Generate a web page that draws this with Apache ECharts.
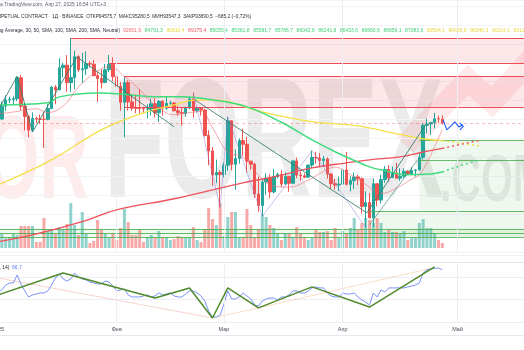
<!DOCTYPE html>
<html>
<head>
<meta charset="utf-8">
<script src="https://cdn.jsdelivr.net/npm/echarts@6/dist/echarts.min.js"></script>
<style>
  html, body { margin: 0; padding: 0; background: #ffffff; }
  #chart { width: 524px; height: 350px; }
</style>
</head>
<body>
<div id="chart"></div>
<script>
// Daily calendar: 1 Jan 2025 .. 20 May 2025 (the right part is left empty for projections)
const dates = [];
for (let i = 0; i < 140; i++) {
  dates.push(new Date(Date.UTC(2025, 0, 1 + i)).toISOString().slice(0, 10));
}
const monthNames = ['2025', 'Фев', 'Мар', 'Апр', 'Май', 'Июн'];
const monthStarts = [31, 59, 90, 120];

// BTCUSDT perpetual, daily candles, 1 Jan .. 27 Apr 2025
const open = [93576,94592,96985,98143,98227,98364,102236,96955,95061,92552,
  94726,94600,94545,94536,96561,100497,99987,104077,104556,101332,
  102260,106144,103707,103910,104871,104747,102620,102083,101336,103733,
  104723,102430,100636,97701,101329,97763,96612,96554,96507,96445,
  96463,97431,95778,97870,96608,97500,97570,96118,95780,95672,
  96644,98305,96182,96551,96258,91553,88680,84250,84709,84350,
  86065,94270,86221,87282,90606,89932,86802,86222,80734,78596,
  82933,83680,81116,83983,84338,82575,84010,82715,86846,84223,
  84089,83841,86083,87498,87393,86909,87232,84424,82649,82390,
  82550,85158,82516,83213,83890,83538,78430,79163,76322,82615,
  79607,83424,85277,83760,84592,83644,84030,84948,84475,85077,
  85179,87516,93443,93691,93980,94639,94575.7];
const high = [95151,97840,98977,98734,98813,102480,102724,97269,95382,95836,
  95051,95450,95940,97371,100682,100867,105865,104989,106422,109588,
  107241,106394,106850,107120,105287,105500,103260,103800,104783,106457,
  106012,102784,101457,102500,101746,99149,99120,100138,96880,97323,
  98345,98478,98120,98084,98826,97972,97725,97047,96754,96900,
  98711,99475,96980,96650,96500,92541,89414,87078,85120,86558,
  95000,94416,88968,91000,92811,91283,86897,86500,83956,83617,
  84540,84336,85310,84676,85117,84757,84022,87000,87454,84850,
  84540,86130,88765,88543,88292,87786,87516,84625,83535,83943,
  85579,88500,83998,84720,84266,83818,81244,80868,83588,82753,
  84300,85905,86100,85800,86496,85500,85470,85132,85678,85321,
  88466,93817,94696,94000,95758,95199,95280.5];
const low = [92888,94392,96100,97562,97292,97920,96182,92501,91204,92206,
  93832,93711,89257,94346,96500,97335,99951,102278,99652,99550,
  100119,103339,101262,102750,104106,102520,97778,100273,101328,103279,
  101560,100280,96150,91231,96150,96155,95677,95620,95688,94713,
  95256,94877,94088,95217,96253,97224,96055,95205,93388,95030,
  96415,94872,95770,95228,91349,86051,82256,82716,78259,83825,
  85051,85117,81500,86335,87836,84667,85218,80000,77460,76606,
  80608,79940,80819,83618,82017,82456,81135,82547,83655,83175,
  83646,83810,85519,86346,85861,85838,83585,81645,81565,81279,
  82433,82320,81211,81659,82380,77154,74508,76240,74620,78464,
  78971,82793,83034,83678,83600,83112,83736,84304,84364,83950,
  85145,87084,91935,91660,92855,93871,93547.3];
const close = [94592,96985,98143,98227,98364,102236,96955,95061,92552,94726,
  94600,94545,94536,96561,100497,99987,104077,104556,101332,102260,
  106144,103707,103910,104871,104747,102620,102083,101336,103733,104723,
  102430,100636,97701,101329,97763,96612,96554,96507,96445,96463,
  97431,95778,97870,96608,97500,97570,96118,95780,95672,96644,
  98305,96182,96551,96258,91553,88680,84250,84709,84350,86065,
  94270,86221,87282,90606,89932,86802,86222,80734,78596,82933,
  83680,81116,83983,84338,82575,84010,82715,86846,84223,84089,
  83841,86083,87498,87393,86909,87232,84424,82649,82390,82550,
  85158,82516,83213,83890,83538,78430,79163,76322,82615,79607,
  83424,85277,83760,84592,83644,84030,84948,84475,85077,85179,
  87516,93443,93691,93980,94639,94628,93890.5];
// Volume, thousands of contracts
const volume = [130,150,100,110,140,130,220,220,220,220,
  60,60,300,170,190,140,210,180,240,450,
  230,130,360,140,50,70,280,180,140,110,
  150,80,200,390,260,130,130,180,60,110,
  130,110,170,110,110,80,90,120,110,110,
  110,210,80,60,190,400,290,230,450,120,
  310,360,360,100,110,390,230,100,190,330,
  310,230,200,140,80,150,140,110,210,140,
  110,80,100,180,160,160,170,80,200,100,
  170,150,200,300,180,250,300,280,250,300,
  250,160,180,160,160,150,170,80,100,100,
  250,290,200,200,150,80,50];
// RSI(14)
const rsi = [46.0,48.7,53.1,54.9,54.9,62.1,54.0,47.8,42.4,44.2,
  45.1,46.0,46.0,47.8,53.1,59.4,63.0,58.5,56.7,58.5,
  63.9,60.3,58.5,57.6,55.8,54.9,54.0,54.0,56.7,55.8,
  52.2,47.8,48.7,49.6,44.2,42.4,42.4,42.4,43.3,44.2,
  42.4,43.3,46.0,44.2,45.1,46.0,43.3,42.4,42.4,45.1,
  47.8,47.8,46.0,43.3,38.8,29.9,24.5,24.5,26.3,36.1,
  47.8,40.6,40.6,42.4,46.0,43.3,40.6,35.2,34.3,38.8,
  40.6,41.5,41.5,39.7,42.4,42.4,44.2,47.8,47.8,46.0,
  46.0,47.8,50.5,51.4,50.5,50.5,46.0,43.3,42.4,42.4,
  46.0,45.1,45.1,46.0,42.4,39.7,37.9,35.2,46.0,42.4,
  48.7,46.9,50.5,50.5,50.5,50.5,50.5,51.4,52.2,53.1,
  54.9,63.9,66.6,67.5,67.9,68.4,66.7];

// Moving-average ribbon, [day index, price]
const maFast = [[0,95500],[5,96000],[10,96500],[13,95800],[17,97000],[21,100500],[25,103000],
  [29,104300],[33,102500],[37,100000],[41,97200],[46,95400],[50,95800],[53,96000],[56,93000],
  [60,88500],[64,87500],[68,84200],[72,82200],[76,82000],[81,83300],[85,84900],[88,85700],
  [92,84300],[96,82500],[100,80800],[104,81800],[108,83500],[110,84300],[112,86500],[114,89500],
  [116,92651.9]];
const ma50 = [[0,97200],[13,97600],[16,98700],[26,99400],[34,99100],[41,98700],[48,98700],
  [56,98150],[65,96850],[74,94000],[82,90750],[88,88550],[97,85750],[100,85200],[107,84300],
  [113,84450],[116,84791.3]];
const ma100 = [[0,82400],[14,87050],[27,92600],[38,95750],[46,97200],[51,98100],[56,98150],
  [69,95900],[82,94100],[94,93350],[103,92050],[111,90950],[116,90610.4]];
const ma200 = [[0,71900],[9,73150],[22,75600],[31,77800],[46,79850],[64,82800],[72,83900],
  [82,85550],[91,86500],[97,87050],[105,87600],[111,88500],[116,89175.4]];
// Forward offsets of the ribbon (next ten days)
const ma50Ahead = [85055.4,85361.8,85581.7,85786.7,86042.8,86241.8,86433.6,86660.6,86859.1,87083.6];
const ma100Ahead = [90504.1,90429.9,90346.3,90224.1,90120.0,90010.0,89900.0,89800.0,89720.0,89640.0];
const ma200Ahead = [89330.0,89480.0,89640.0,89790.0,89940.0,90090.0,90240.0,90390.0,90540.0,90690.0];

// Drawn trend lines / swings, [day index, price]
const swingLine = [[0.5,96850],[5,102480],[9,92206],[20.6,106100],[46,93150]];
const trendLine = [[51.4,98145],[96.3,77240],[112,93890]];
const riseLine = [[97,75000],[109.5,87000]];
const zigzag = [[51,99475],[58,78259],[60,95000],[69,76606],[82,88765],[96,74508]];
const pathPlan = [[116.2,94445],[117.2,92595],[119.3,94075],[120.3,93150],[121.4,93520]];
const pathHead = [[120.6,93890],[121.5,93240],[120.6,92595]];

// Levels: resistance zones (pink) and support zones (green)
const resistZones = [[19,105000,109588],[33,96850,102500]];
const resistLevels = [[19,109588],[29,105000],[33,102500],[33,96850]];
const supportZones = [[110,77610,90745],[97,72800,77610],[0,72800,74280]];
const supportLevels = [[110,90745],[110,87045],[97,77610],[0,74280],[0,73540],[0,72800]];
const lastPrice = 93890.5;

// RSI trend lines, [day index, rsi]
const rsiSwings = [[0,44.2],[17,63.9],[41,41.5],[50,50.5],[56,23.6],[60,50.5],[68,32.6],[82,51.4],[97,33.4],[114,69.3]];
const rsiFaintA = [[0,59.4],[56,23.6]];
const rsiFaintB = [[56,23.6],[68,32.6],[113,68]];

const UP = '#26a69a', DOWN = '#ef5350';
const N = close.length;
const fmt = v => v.toFixed(1).replace('.', ',');

const candles = [];
const volBars = [];
for (let i = 0; i < N; i++) {
  candles.push([open[i], close[i], low[i], high[i]]);
  const up = close[i] >= open[i];
  volBars.push({ value: volume[i], itemStyle: { color: up ? 'rgba(38,166,154,0.5)' : 'rgba(239,83,80,0.5)' } });
}
const rsiPts = rsi.map((v, i) => [i, v]);
const ahead = (last, arr) => [last].concat(arr.map((v, k) => [117 + k, v]));

const XMIN = -0.5, XMAX = 139.5;
const W = 3.83;
const gridLeft = -2 - W / 2;
const gridWidth = 140 * W;

const font = '"Liberation Sans", Arial, sans-serif';

// Header texts
const chg = close[N - 1] - open[N - 1];
const header2 = 'BTCUSDT PERPETUAL CONTRACT · 1Д · BINANCE  ОТКР' + fmt(open[N - 1]) +
  '  МАКС' + fmt(high[N - 1]) + '  МИН' + fmt(low[N - 1]) + '  ЗАКР' + fmt(close[N - 1]) +
  '  ' + fmt(chg).replace('-', '−') + ' (' + (chg / open[N - 1] * 100).toFixed(2).replace('.', ',').replace('-', '−') + '%)';
const ribbonVals = [
  [maFast[maFast.length - 1][1], '#f26b75'],
  [ma50[ma50.length - 1][1], '#3fcf78'],
  [ma100[ma100.length - 1][1], '#e9d63a'],
  [ma200[ma200.length - 1][1], '#f0525c']
].concat(ma50Ahead.map(v => [v, '#3fcf78']))
 .concat(ma100Ahead.map(v => [v, '#e9d63a']))
 .concat(ma200Ahead.map(v => [v, '#f0525c']));

const graphics = [
  // watermark
  { type: 'text', x: -14, y: 165, scaleX: 0.58, z: 0, silent: true,
    style: { text: 'OR', font: 'bold 118px ' + font, fill: 'rgba(242,54,69,0.10)', textVerticalAlign: 'middle' } },
  { type: 'text', x: 104, y: 150, scaleX: 0.58, z: 0, silent: true,
    style: { text: 'FOREX', font: 'bold 170px ' + font, fill: 'rgba(0,0,0,0.08)', textVerticalAlign: 'middle' } },
  { type: 'text', x: 440, y: 183, scaleX: 0.62, z: 0, silent: true,
    style: { text: '.COM', font: 'bold 66px ' + font, fill: 'rgba(0,0,0,0.08)', textVerticalAlign: 'middle' } },
  { type: 'polyline', z: 0, silent: true,
    shape: { points: [[405, 145], [468, 80], [492, 102], [535, 55]] },
    style: { stroke: 'rgba(242,54,69,0.11)', lineWidth: 22, fill: null, lineJoin: 'miter' } },
  // pane separators
  { type: 'line', z: 1, silent: true, shape: { x1: 0, y1: 255.5, x2: 524, y2: 255.5 }, style: { stroke: '#eef0f4', lineWidth: 1 } },
  { type: 'line', z: 1, silent: true, shape: { x1: 0, y1: 262.5, x2: 524, y2: 262.5 }, style: { stroke: '#e0e3eb', lineWidth: 1 } },
  { type: 'line', z: 1, silent: true, shape: { x1: 0, y1: 335.5, x2: 524, y2: 335.5 }, style: { stroke: '#e6e8ee', lineWidth: 1 } },
  // header lines
  { type: 'text', x: 106, y: 4.5, z: 50,
    style: { text: 'Опубликовано на TradingView.com, Апр 27, 2025 16:54 UTC+3', font: '5px ' + font, fill: '#5d606b', textAlign: 'right', textVerticalAlign: 'middle' } },
  { type: 'text', x: 251, y: 16.5, z: 50,
    style: { text: header2, font: '4.8px ' + font, fill: '#2a2e39', textAlign: 'right', textVerticalAlign: 'middle' } },
  { type: 'text', x: 120, y: 31, z: 50,
    style: { text: 'Moving Average Ribbon (SMA, 20, Moving Average, 30, 50, SMA, 100, SMA, 200, SMA, Neutral)', font: '4.85px ' + font, fill: '#2a2e39', textAlign: 'right', textVerticalAlign: 'middle' } },
  // RSI legend
  { type: 'text', x: 9.5, y: 268, z: 50,
    style: { text: 'RSI (close, 14)', font: '5px ' + font, fill: '#2a2e39', textAlign: 'right', textVerticalAlign: 'middle' } },
  { type: 'text', x: 12, y: 268, z: 50,
    style: { text: fmt(rsi[N - 1]), font: '5px ' + font, fill: '#5b7cf0', textVerticalAlign: 'middle' } }
];
ribbonVals.forEach((rv, k) => {
  graphics.push({ type: 'text', x: 123 + k * 21.7, y: 31, z: 50,
    style: { text: fmt(rv[0]), font: '5px ' + font, fill: rv[1], textVerticalAlign: 'middle' } });
});

const zoneAreas = resistZones.map(z => [
  { coord: [z[0], z[1]], itemStyle: { color: 'rgba(242,54,69,0.12)' } },
  { coord: [XMAX, z[2]] }
]).concat(supportZones.map(z => [
  { coord: [z[0], z[1]], itemStyle: { color: 'rgba(76,175,80,0.09)' } },
  { coord: [XMAX, z[2]] }
]));
const levelLines = resistLevels.map(l => [
  { coord: [l[0], l[1]], lineStyle: { color: '#ef4b57', width: 1, type: 'solid' } },
  { coord: [XMAX, l[1]] }
]).concat(supportLevels.map(l => [
  { coord: [l[0], l[1]], lineStyle: { color: 'rgba(76,175,80,0.85)', width: 1, type: 'solid' } },
  { coord: [XMAX, l[1]] }
])).concat([[
  { coord: [XMIN, lastPrice], lineStyle: { color: 'rgba(242,54,69,0.35)', width: 1, type: [3, 3] } },
  { coord: [XMAX, lastPrice] }
]]).concat(monthStarts.map(m => [
  { coord: [m, 70000], lineStyle: { color: '#eceef3', width: 1, type: 'solid' } },
  { coord: [m, 116620] }
]));

const lineSeries = (name, data, color, width, extra) => Object.assign({
  name, type: 'line', xAxisIndex: 1, yAxisIndex: 0, data,
  showSymbol: false, symbol: 'none', silent: true, z: 5,
  lineStyle: { color, width }
}, extra || {});

const option = {
  animation: false,
  backgroundColor: '#ffffff',
  graphic: graphics,
  grid: [
    { left: gridLeft, width: gridWidth, top: 0, height: 252, containLabel: false, outerBoundsMode: 'none' },
    { left: gridLeft, width: gridWidth, top: 158, height: 90, containLabel: false, outerBoundsMode: 'none' },
    { left: gridLeft, width: gridWidth, top: 262, height: 60, containLabel: false, outerBoundsMode: 'none' }
  ],
  xAxis: [
    { type: 'category', gridIndex: 0, data: dates, boundaryGap: true,
      axisLine: { show: false }, axisTick: { show: false }, axisLabel: { show: false }, splitLine: { show: false } },
    { type: 'value', gridIndex: 0, min: XMIN, max: XMAX, position: 'top', show: false },
    { type: 'category', gridIndex: 1, data: dates, boundaryGap: true, show: false },
    { type: 'category', gridIndex: 2, data: dates, boundaryGap: true,
      axisLine: { show: false }, axisTick: { show: false }, splitLine: { show: false },
      axisLabel: {
        show: true, margin: 4, fontSize: 5.5, color: '#4a4e5a', fontFamily: font,
        interval: (idx, val) => val.slice(8) === '01',
        formatter: val => monthNames[+val.slice(5, 7) - 1]
      } },
    { type: 'value', gridIndex: 2, min: XMIN, max: XMAX, position: 'top', show: false }
  ],
  yAxis: [
    { type: 'value', gridIndex: 0, min: 70000, max: 116620, interval: 3500, position: 'right',
      axisLine: { show: false }, axisTick: { show: false }, axisLabel: { show: false },
      splitLine: { show: true, lineStyle: { color: '#f2f3f7', width: 1 } } },
    { type: 'value', gridIndex: 1, min: 0, max: 900, show: false },
    { type: 'value', gridIndex: 2, min: 20, max: 73.7, interval: 20, position: 'right',
      axisLine: { show: false }, axisTick: { show: false }, axisLabel: { show: false },
      splitLine: { show: true, lineStyle: { color: '#eceef3', width: 1 } } }
  ],
  series: [
    { name: 'levels', type: 'line', xAxisIndex: 1, yAxisIndex: 0, data: [], z: 1, silent: true,
      markArea: { silent: true, data: zoneAreas },
      markLine: { silent: true, symbol: ['none', 'none'], label: { show: false }, data: levelLines } },
    { name: 'volume', type: 'bar', xAxisIndex: 2, yAxisIndex: 1, data: volBars, barWidth: 3, z: 2, silent: true },
    { name: 'price', type: 'candlestick', xAxisIndex: 0, yAxisIndex: 0, data: candles, barWidth: 3, z: 3, silent: true,
      itemStyle: { color: UP, color0: DOWN, borderColor: UP, borderColor0: DOWN, borderWidth: 1 } },
    lineSeries('ma200', ma200, '#f0525c', 1.3, { smooth: 0.4 }),
    lineSeries('ma100', ma100, '#f3df48', 1.3, { smooth: 0.4 }),
    lineSeries('ma50', ma50, '#3fdc7e', 1.5, { smooth: 0.4 }),
    lineSeries('maFast', maFast, 'rgba(242,107,117,0.6)', 1, { smooth: 0.4 }),
    lineSeries('ma50Ahead', ahead(ma50[ma50.length - 1], ma50Ahead), '#3fdc7e', 1.5, { lineStyle: { color: '#3fdc7e', width: 1.5, type: [2, 3] } }),
    lineSeries('ma100Ahead', ahead(ma100[ma100.length - 1], ma100Ahead), '#f3df48', 1.5, { lineStyle: { color: '#f3df48', width: 1.5, type: [2, 3] } }),
    lineSeries('ma200Ahead', ahead(ma200[ma200.length - 1], ma200Ahead), '#f0525c', 1.5, { lineStyle: { color: '#f0525c', width: 1.5, type: [2, 3] } }),
    lineSeries('swing', swingLine, 'rgba(46,125,108,0.85)', 1),
    lineSeries('trend', trendLine, 'rgba(46,125,108,0.85)', 1),
    lineSeries('rise', riseLine, 'rgba(46,125,108,0.6)', 1),
    lineSeries('zigzag', zigzag, 'rgba(140,120,210,0.45)', 1),
    lineSeries('plan', pathPlan, '#2962ff', 1.2, { z: 6 }),
    lineSeries('planHead', pathHead, '#2962ff', 1.2, { z: 6 }),
    { name: 'rsi', type: 'line', xAxisIndex: 4, yAxisIndex: 2, data: rsiPts, showSymbol: false, symbol: 'none', silent: true, z: 4,
      lineStyle: { color: '#7b93f5', width: 1 },
      markLine: { silent: true, symbol: ['none', 'none'], label: { show: false },
        data: monthStarts.map(m => ({ xAxis: m, lineStyle: { color: '#eceef3', width: 1, type: 'solid' } })) } },
    { name: 'rsiFaintA', type: 'line', xAxisIndex: 4, yAxisIndex: 2, data: rsiFaintA, showSymbol: false, symbol: 'none', silent: true, z: 3,
      lineStyle: { color: 'rgba(240,130,120,0.35)', width: 1 } },
    { name: 'rsiFaintB', type: 'line', xAxisIndex: 4, yAxisIndex: 2, data: rsiFaintB, showSymbol: false, symbol: 'none', silent: true, z: 3,
      lineStyle: { color: 'rgba(245,170,110,0.4)', width: 1 } },
    { name: 'rsiSwings', type: 'line', xAxisIndex: 4, yAxisIndex: 2, data: rsiSwings, showSymbol: false, symbol: 'none', silent: true, z: 5,
      lineStyle: { color: '#4f8a2b', width: 1.5 } }
  ]
};

const chart = echarts.init(document.getElementById('chart'), null, { renderer: 'canvas' });
chart.setOption(option);
</script>
</body>
</html>
